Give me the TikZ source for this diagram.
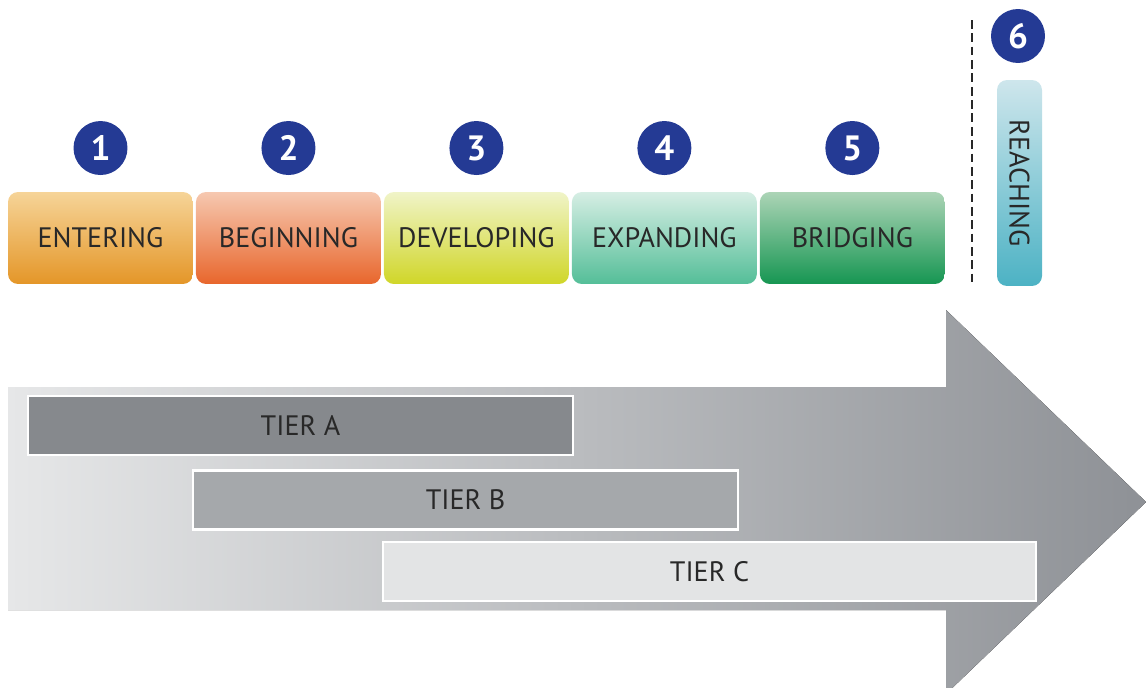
\documentclass[tikz,border=0pt]{standalone}
\usepackage{fontspec}
\setmainfont{PT Sans}
\usetikzlibrary{positioning}
\definecolor{numblue}{RGB}{36,58,148}
\definecolor{txtgray}{RGB}{40,40,40}
\definecolor{enttop}{RGB}{246,212,152}
\definecolor{entbot}{RGB}{228,150,40}
\definecolor{begtop}{RGB}{246,200,176}
\definecolor{begbot}{RGB}{232,102,44}
\definecolor{devtop}{RGB}{240,244,200}
\definecolor{devbot}{RGB}{208,214,40}
\definecolor{exptop}{RGB}{214,238,228}
\definecolor{expbot}{RGB}{84,190,152}
\definecolor{brgtop}{RGB}{172,212,182}
\definecolor{brgbot}{RGB}{22,150,82}
\definecolor{reatop}{RGB}{206,230,236}
\definecolor{reabot}{RGB}{76,178,196}
\definecolor{arrleft}{RGB}{230,231,232}
\definecolor{arrright}{RGB}{142,145,150}
\definecolor{tiera}{RGB}{134,137,141}
\definecolor{tierb}{RGB}{165,168,171}
\definecolor{tierc}{RGB}{227,228,229}

\begin{document}
\begin{tikzpicture}[x=0.02cm,y=-0.02cm,node distance=3.76cm,on grid]
\tikzstyle{stage}=[rectangle,rounded corners=0.2cm,minimum width=3.7cm,minimum height=1.84cm,inner sep=0pt,text=txtgray,font=\fontsize{16}{19}\selectfont]
\tikzstyle{num}=[circle,fill=numblue,minimum size=1.08cm,inner sep=0pt,text=white,font=\fontsize{20}{24}\selectfont\bfseries]
\tikzstyle{tier}=[rectangle,draw=white,line width=1.2pt,minimum height=1.18cm,inner sep=0pt,text=txtgray,font=\fontsize{16}{19}\selectfont]

\useasboundingbox (0,0) rectangle (1146,687);

%--- big arrow ---
\fill[left color=arrleft,right color=arrright]
  (8,387) -- (946,387) -- (946,310) -- (1146,502) -- (946,694)
  -- (946,610) -- (8,610) -- cycle;

%--- tiers ---
\node[tier, fill=tiera, minimum width=10.9cm] (tierA) at (300.5,425.5) {TIER A};
\node[tier, fill=tierb, minimum width=10.9cm] (tierB) at (465.5,500) {TIER B};
\node[tier, fill=tierc, minimum width=13.06cm] (tierC) at (709.5,571.5) {TIER C};

%--- stages ---
\node[stage, top color=enttop, bottom color=entbot] (enter) at (100.5,238) {ENTERING};
\node[stage, top color=begtop, bottom color=begbot] (begin) [right=of enter] {BEGINNING};
\node[stage, top color=devtop, bottom color=devbot] (develop) [right=of begin] {DEVELOPING};
\node[stage, top color=exptop, bottom color=expbot] (expand) [right=of develop] {EXPANDING};
\node[stage, top color=brgtop, bottom color=brgbot] (bridge) [right=of expand] {BRIDGING};

%--- numbers ---
\node[num] (n1) [above=1.8cm of enter] {1};
\node[num] (n2) [above=1.8cm of begin] {2};
\node[num] (n3) [above=1.8cm of develop] {3};
\node[num] (n4) [above=1.8cm of expand] {4};
\node[num] (n5) [above=1.8cm of bridge] {5};

%--- reaching ---
\node[stage, rotate=-90, minimum width=4.12cm, minimum height=0.9cm,
  top color=reatop, bottom color=reabot] (reach) at (1019.5,183) {REACHING};
\node[num] (n6) at (1018,36) {6};

\coordinate (dtop) at (972,20);
\coordinate (dbot) at (972,283);
\draw[txtgray, line width=1.1pt, dash pattern=on 5pt off 2.6pt] (dtop) -- (dbot);

\end{tikzpicture}
\end{document}
